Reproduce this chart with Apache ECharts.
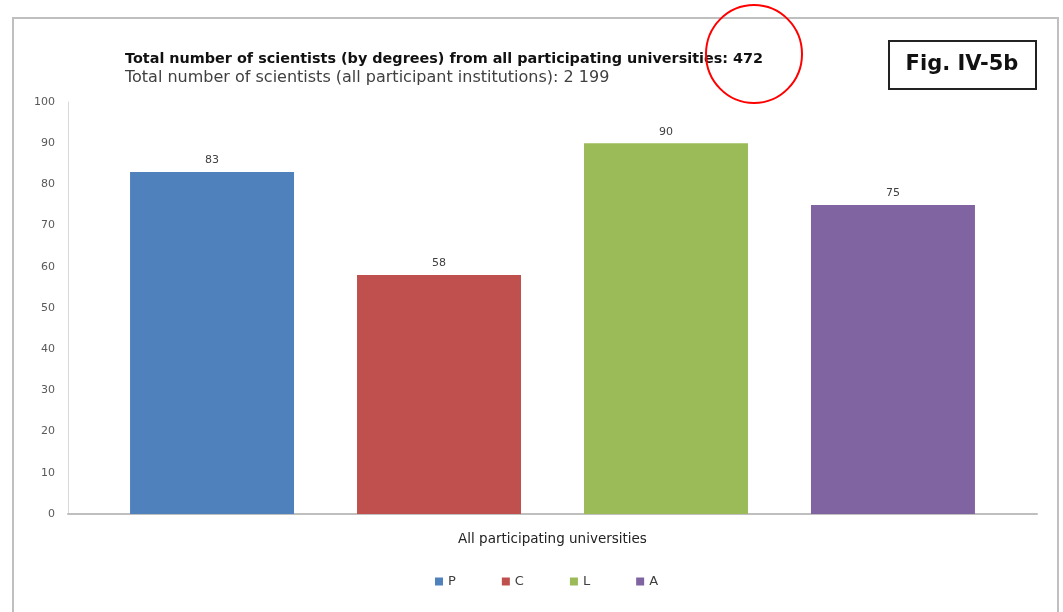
<!DOCTYPE html>
<html>
<head>
<meta charset="utf-8">
<script src="https://cdn.jsdelivr.net/npm/echarts@6/dist/echarts.min.js"></script>
<style>html,body{margin:0;padding:0;background:#fff}#c{width:1063px;height:612px}</style>
</head>
<body>
<div id="c"></div>
<script>
const categories = ['All participating universities'];
const seriesNames = ['P', 'C', 'L', 'A'];
const seriesValues = [[83], [58], [90], [75]];
const seriesColors = ['#4F81BD', '#C0504D', '#9BBB59', '#8064A2'];
const yTicks = [0, 10, 20, 30, 40, 50, 60, 70, 80, 90, 100];
const titleText = 'Total number of scientists (by degrees) from all participating universities: 472';
const subtitleText = 'Total number of scientists (all participant institutions): 2 199';
const figLabel = 'Fig. IV-5b';

const chart = echarts.init(document.getElementById('c'));
const font = 'DejaVu Sans';
chart.setOption({
  animation: false,
  textStyle: { fontFamily: font },
  title: {
    text: titleText,
    subtext: subtitleText,
    left: 120, top: 47,
    itemGap: 4,
    textStyle: { fontSize: 14.4, fontWeight: 'bold', color: '#111', fontFamily: font },
    subtextStyle: { fontSize: 16, color: '#404040', fontFamily: font }
  },
  grid: { left: 68, right: 26, top: 102, bottom: 98 },
  legend: {
    data: seriesNames,
    bottom: 19, left: 430,
    icon: 'rect', itemWidth: 8, itemHeight: 8, itemGap: 46,
    textStyle: { fontSize: 13, color: '#404040', fontFamily: font }
  },
  xAxis: {
    type: 'category', data: categories,
    axisLine: { lineStyle: { color: '#bfbfbf', width: 2 } },
    axisTick: { show: false },
    axisLabel: { margin: 18, fontSize: 13.5, color: '#222', fontFamily: font }
  },
  yAxis: {
    type: 'value', min: yTicks[0], max: yTicks[yTicks.length - 1], interval: 10,
    axisLine: { show: true, lineStyle: { color: '#d9d9d9', width: 1 } },
    axisTick: { show: false },
    splitLine: { show: false },
    axisLabel: { margin: 13, fontSize: 11, color: '#595959', fontFamily: font }
  },
  series: seriesNames.map((n, i) => ({
    name: n, type: 'bar', data: seriesValues[i],
    barWidth: 164, barGap: '38.4%',
    itemStyle: { color: seriesColors[i] },
    label: { show: true, position: 'top', distance: 6, fontSize: 11, color: '#404040', fontFamily: font }
  })),
  graphic: [
    { type: 'polyline', shape: { points: [[13, 612], [13, 18], [1058, 18], [1058, 612]] },
      style: { stroke: '#bfbfbf', lineWidth: 2, fill: null }, silent: true },
    { type: 'rect', shape: { x: 889, y: 41, width: 147, height: 48 },
      style: { stroke: '#222', lineWidth: 2, fill: '#fff' } },
    { type: 'text', x: 962, y: 65,
      style: { text: figLabel, font: 'bold 21px ' + font, fill: '#111', textAlign: 'center', textVerticalAlign: 'middle' } },
    { type: 'ellipse', shape: { cx: 754, cy: 54, rx: 48, ry: 49 },
      style: { stroke: '#ff0000', lineWidth: 2, fill: null }, z: 100 }
  ]
});
</script>
</body>
</html>
